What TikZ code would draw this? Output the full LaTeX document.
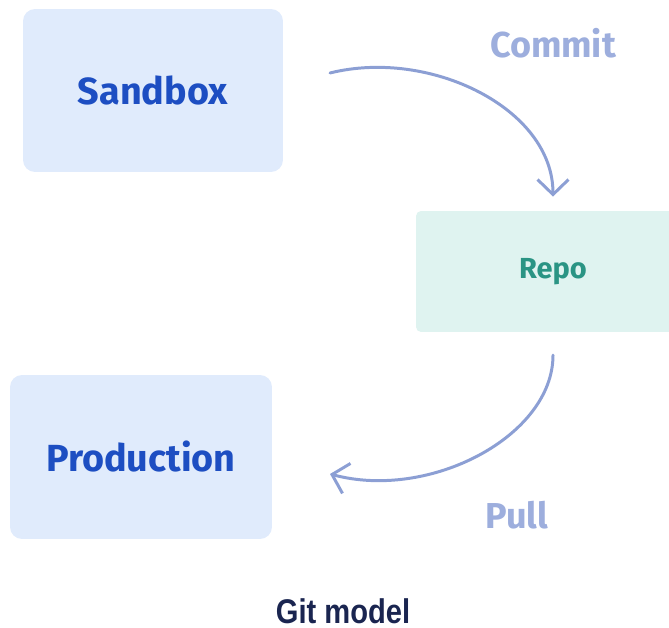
\documentclass[tikz,border=0pt]{standalone}
\usepackage{fontspec}
\setmainfont{Fira Sans}
\newfontfamily\titlefont[FakeStretch=0.85]{Liberation Sans}
\usetikzlibrary{arrows.meta}
\definecolor{envfill}{HTML}{E0EBFC}
\definecolor{envtext}{HTML}{1D4EC2}
\definecolor{repofill}{HTML}{DFF3F0}
\definecolor{repotext}{HTML}{2A9484}
\definecolor{flowline}{HTML}{8C9FD4}
\definecolor{flowtext}{HTML}{9DAEDD}
\definecolor{titletext}{HTML}{1A2550}
\begin{document}
\begin{tikzpicture}[
    x=0.02cm, y=0.02cm,
    env/.style={rectangle, fill=envfill, text=envtext, minimum width=5.2cm, minimum height=3.26cm, rounded corners=0.24cm, font=\fontsize{21.5}{24}\selectfont\bfseries},
    repo/.style={rectangle, fill=repofill, text=repotext, minimum width=5.48cm, minimum height=2.42cm, rounded corners=0.1cm, font=\fontsize{16.5}{19}\selectfont\bfseries},
    flow/.style={line width=1.7pt, draw=flowline, line cap=round, -{Straight Barb[length=0.3cm, width=0.62cm, line width=1.7pt]}},
    flowlabel/.style={text=flowtext, font=\fontsize{20.5}{24}\selectfont\bfseries},
]
\useasboundingbox (0,0) rectangle (669,628);
\clip (0,0) rectangle (669,628);
\node[env] (sandbox) at (153,537.5) {Sandbox};
\node[repo] (repo) at (553,356.5) {Repo};
\node[env, minimum width=5.24cm, minimum height=3.28cm] (production) at (141,171) {Production};
\coordinate (commit-start) at (330,555);
\coordinate (pull-end) at (330,154);
\draw[flow, shorten >=8] (commit-start) to[out=14, in=90] (repo.north);
\draw[flow, shorten <=13] (repo.south) to[out=-90, in=-15] (pull-end);
\node[flowlabel] (commit) at (553,585) {Commit};
\node[flowlabel] (pull) at (517,113) {Pull};
\node[text=titletext, inner sep=0pt, font=\titlefont\fontsize{19.5}{22}\selectfont\bfseries] (title) at (343,17) {Git model};
\end{tikzpicture}
\end{document}
